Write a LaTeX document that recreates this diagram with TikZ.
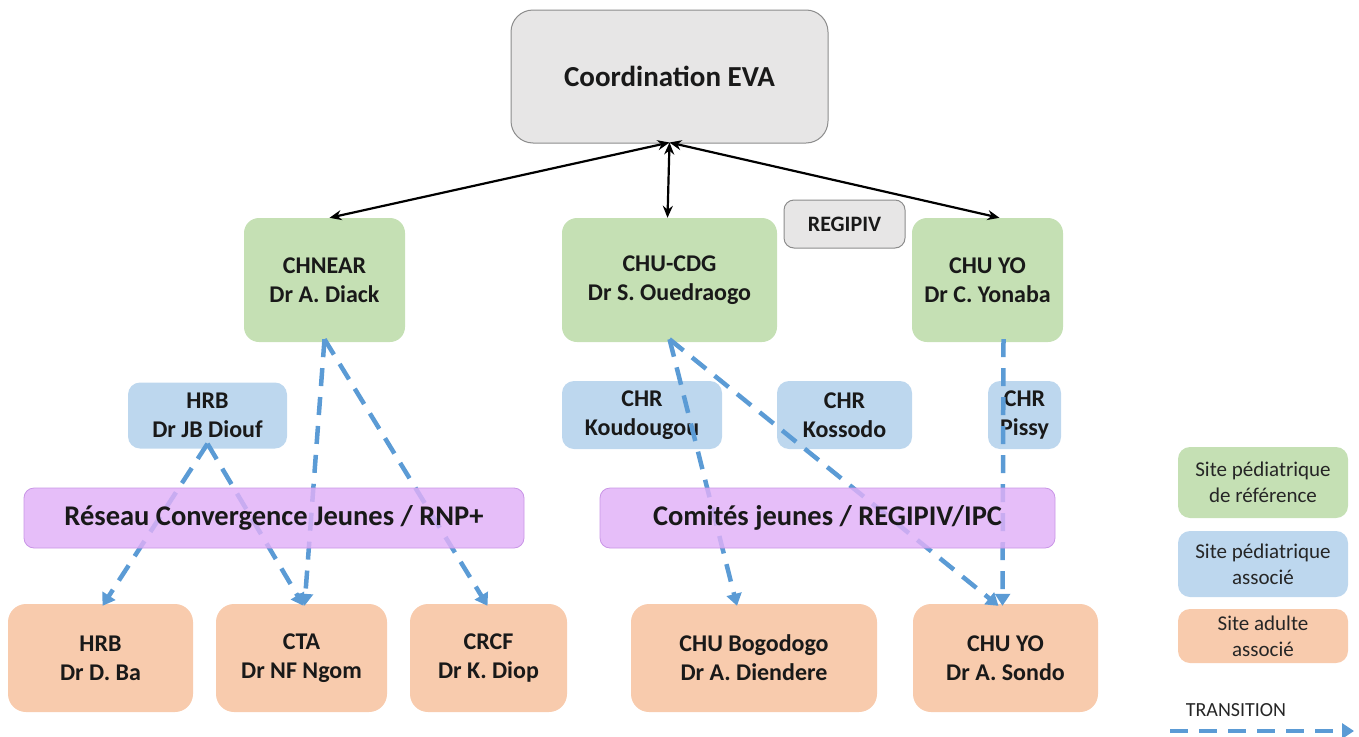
\documentclass[tikz,border=0pt]{standalone}
\usepackage{fontspec}
\setmainfont{Carlito}
\usetikzlibrary{arrows.meta}
\definecolor{cgray}{HTML}{E7E6E6}
\definecolor{cgrayline}{HTML}{8C8C8C}
\definecolor{cgreen}{HTML}{C5E0B4}
\definecolor{cblue}{HTML}{BDD7EE}
\definecolor{corange}{HTML}{F8CBAD}
\definecolor{cpurple}{HTML}{E0B0F8}
\definecolor{cpurpleline}{HTML}{C995E6}
\definecolor{carrow}{HTML}{5B9BD5}
\tikzset{
  box/.style={rounded corners=15pt, align=center, inner sep=2pt, text=black!90,
    font=\fontsize{24}{29}\selectfont\bfseries},
  graybox/.style={box, fill=cgray, draw=cgrayline, line width=1pt},
  greenbox/.style={box, fill=cgreen},
  bluebox/.style={box, fill=cblue, rounded corners=12pt},
  orangebox/.style={box, fill=corange, rounded corners=18pt},
  purplebox/.style={box, fill=cpurple, fill opacity=0.82, text opacity=1,
    draw=cpurpleline, line width=0.8pt, rounded corners=10pt,
    font=\fontsize{28.5}{32}\selectfont\bfseries},
  legbox/.style={rounded corners=12pt, align=center, inner sep=2pt,
    font=\fontsize{21}{26}\selectfont, text=black!85},
  link/.style={black, line width=2.2pt, {Stealth[length=12pt,width=10pt]}-{Stealth[length=12pt,width=10pt]}},
  trans/.style={carrow, line width=4.5pt, dash pattern=on 18pt off 11pt,
    -{Triangle[length=12pt,width=15pt]}},
}
\begin{document}
\begin{tikzpicture}[x=1pt,y=-1pt]
\useasboundingbox (0,0) rectangle (1359,736);
% top
\node[graybox, rounded corners=22pt, minimum width=317pt, minimum height=133pt,
  font=\fontsize{29}{33}\selectfont\bfseries] (coord) at (669.5,76.5) {Coordination EVA};
% level 1
\node[greenbox, minimum width=161pt, minimum height=124pt] (chnear) at (324.5,280) {CHNEAR\\Dr A. Diack};
\node[greenbox, minimum width=215pt, minimum height=124pt] (chucdg) at (669.5,280) {CHU-CDG\\Dr S. Ouedraogo};
\node[graybox, rounded corners=10pt, minimum width=121pt, minimum height=48pt,
  font=\fontsize{22}{26}\selectfont\bfseries] (regipiv) at (844.5,224) {REGIPIV};
\node[greenbox, minimum width=151pt, minimum height=124pt] (chuyo) at (987.5,280) {CHU YO\\Dr C. Yonaba};
% level 2
\node[bluebox, minimum width=159pt, minimum height=66pt] (hrbjb) at (207.5,415.5) {HRB\\Dr JB Diouf};
\node[bluebox, minimum width=160pt, minimum height=68pt] (koud) at (642,415) {CHR\\Koudougou};
\node[bluebox, minimum width=135pt, minimum height=68pt] (koss) at (844.5,415) {CHR\\Kossodo};
\node[bluebox, minimum width=73pt, minimum height=68pt] (pissy) at (1024.5,415) {CHR\\Pissy};
% bottom
\node[orangebox, minimum width=185pt, minimum height=108pt] (hrbba) at (100.5,658) {HRB\\Dr D. Ba};
\node[orangebox, minimum width=171pt, minimum height=108pt] (cta) at (301.5,658) {CTA\\Dr NF Ngom};
\node[orangebox, minimum width=157pt, minimum height=108pt] (crcf) at (488.5,658) {CRCF\\Dr K. Diop};
\node[orangebox, minimum width=246pt, minimum height=108pt] (bogo) at (754,658) {CHU Bogodogo\\Dr A. Diendere};
\node[orangebox, minimum width=185pt, minimum height=108pt] (sondo) at (1005.5,658) {CHU YO\\Dr A. Sondo};
% legend
\node[legbox, fill=cgreen, minimum width=170pt, minimum height=71pt] (leg1) at (1263,482.5) {Site pédiatrique\\de référence};
\node[legbox, fill=cblue, minimum width=170pt, minimum height=66pt] (leg2) at (1263,564) {Site pédiatrique\\associé};
\node[legbox, fill=corange, minimum width=170pt, minimum height=54pt] (leg3) at (1263,636) {Site adulte\\associé};
\node[font=\fontsize{20}{24}\selectfont, text=black!85, inner sep=0pt] (legtxt) at (1236,710) {TRANSITION};
\coordinate (legA) at (1170,731);
\coordinate (legB) at (1354,731);
% black links
\coordinate (cs) at ([yshift=1pt]coord.south);
\draw[link] (cs) -- ([xshift=5pt]chnear.north);
\draw[link] (cs) -- ([xshift=-2pt]chucdg.north);
\draw[link] (cs) -- ([xshift=12pt]chuyo.north);
% transitions
\coordinate (s1) at ([yshift=3pt]chnear.south);
\coordinate (s2) at ([yshift=3pt]chucdg.south);
\coordinate (s3) at ([xshift=16pt,yshift=3pt]chuyo.south);
\coordinate (s4) at ([yshift=5pt]hrbjb.south);
\draw[trans] (s4) -- ([xshift=2pt,yshift=-2pt]hrbba.north);
\draw[trans] (s4) -- ([xshift=2pt,yshift=-2pt]cta.north);
\draw[trans] (s1) -- ([xshift=3pt,yshift=-2pt]cta.north);
\draw[trans] (s1) -- ([xshift=-1pt,yshift=-2pt]crcf.north);
\draw[trans] (s2) -- ([xshift=-17pt,yshift=-2pt]bogo.north);
\draw[trans] (s2) -- ([xshift=-7pt,yshift=-2pt]sondo.north);
\draw[trans] (s3) -- ([xshift=-3pt,yshift=-2pt]sondo.north);
\draw[trans] (legA) -- (legB);
% purple bands
\node[purplebox, minimum width=500pt, minimum height=60pt] (reseau) at (274,518) {Réseau Convergence Jeunes / RNP+};
\node[purplebox, minimum width=455pt, minimum height=60pt] (comites) at (827.5,518) {Comités jeunes / REGIPIV/IPC};
\end{tikzpicture}
\end{document}
